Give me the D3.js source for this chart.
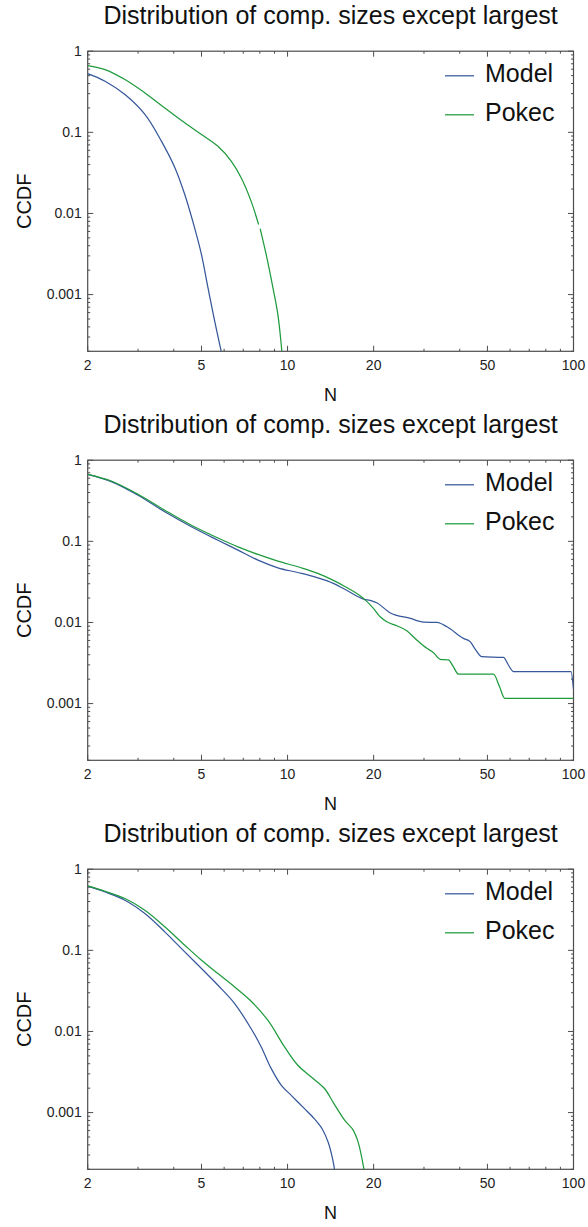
<!DOCTYPE html>
<html>
<head>
<meta charset="utf-8">
<script src="https://cdn.jsdelivr.net/npm/d3@7"></script>
<style>
  html, body { margin: 0; padding: 0; background: #fff; }
  svg { display: block; font-family: "Liberation Sans", Arial, sans-serif; }
</style>
</head>
<body>
<svg id="chart" width="588" height="1227"></svg>
<script>
// ---------------- data ----------------
const titleText = "Distribution of comp. sizes except largest";
const seriesNames = ["Model", "Pokec"];
const xTicks = [2, 5, 10, 20, 50, 100];
const xTickLabels = ["2", "5", "10", "20", "50", "100"];
const yTicks = [1, 0.1, 0.01, 0.001];
const yTickLabels = ["1", "0.1", "0.01", "0.001"];
const xDomain = [2, 100];
const yDomain = [0.0002, 1];

// Panel 1
const p1Model = [[2,0.53],[2.3,0.427],[2.7,0.292],[3.17,0.166],[3.62,0.078],[4.04,0.0364],
  [4.37,0.0171],[4.73,0.00664],[5.0,0.00311],[5.27,0.00121],[5.56,0.00047],[5.86,0.0002]];
const p1Pokec = [[2,0.666],[2.3,0.594],[2.7,0.447],[3.17,0.306],[3.72,0.20],[4.37,0.131],
  [5.0,0.094],[5.71,0.0674],[6.36,0.044],[6.89,0.0274],[7.46,0.0141],[7.92,0.0073],null,
  [8.02,0.0065],[8.42,0.0031],[8.89,0.00121],[9.25,0.000566],[9.55,0.0002]];

// Panel 2
const p2Model = [[2,0.67],[2.43,0.541],[3.0,0.37],[3.72,0.231],[4.61,0.151],[5.71,0.103],
  [6.71,0.0778],[7.88,0.0586],[9.25,0.0472],[10.86,0.0413],[12.76,0.0355],[14.46,0.0303],
  [15.8,0.0258],[18.43,0.0194],[19.7,0.0185],[20.5,0.0175],[22.8,0.0132],[26.9,0.0112],
  [29.9,0.0101],[33.3,0.0100],[36.1,0.00885],[41.2,0.00637],[43.5,0.0058],[45.3,0.0047],
  [47.8,0.00379],[56.9,0.0037],[59.2,0.00299],[61.7,0.00248],[98,0.00248],[100,0.0015]];
const p2Pokec = [[2,0.67],[2.43,0.55],[3.0,0.38],[3.72,0.242],[4.61,0.158],[5.71,0.110],
  [6.71,0.0855],[7.88,0.0689],[9.25,0.057],[11.07,0.0476],[12.76,0.0402],[14.46,0.0330],
  [15.8,0.028],[18.43,0.0198],[19.97,0.0149],[21.08,0.01175],[22.24,0.0102],[24.11,0.0091],
  [26.12,0.0079],[28.3,0.00608],[30.7,0.0048],[32.4,0.00424],[34.2,0.00351],[36.5,0.00345],
  [38.0,0.00285],[39.6,0.0023],[52.5,0.0023],[55.1,0.00162],[57.5,0.00116],[100,0.00116]];

// Panel 3
const p3Model = [[2,0.617],[2.3,0.525],[2.7,0.415],[3.17,0.284],[3.72,0.169],[4.37,0.0957],
  [5.0,0.0596],[5.71,0.0371],[6.53,0.0221],[7.46,0.0108],[8.09,0.00645],[8.77,0.00348],
  [9.51,0.00217],[10.3,0.00163],[11.46,0.00112],[12.4,0.000843],[12.86,0.00072],
  [13.25,0.00062],[13.87,0.00043],[14.3,0.00029],[14.6,0.0002]];
const p3Pokec = [[2,0.623],[2.3,0.535],[2.7,0.435],[3.17,0.312],[3.72,0.195],[4.37,0.1156],
  [5.0,0.0755],[5.71,0.0517],[6.53,0.0354],[7.46,0.0236],[8.53,0.01375],[9.76,0.00645],
  [10.86,0.00383],[12.1,0.00275],[13.46,0.00198],[14.45,0.00133],[15.9,0.00079],
  [16.9,0.00062],[17.66,0.00043],[18.5,0.0002]];

const panels = [
  { model: p1Model, pokec: p1Pokec, curve: d3.curveCatmullRom.alpha(0.5) },
  { model: p2Model, pokec: p2Pokec, curve: d3.curveMonotoneX },
  { model: p3Model, pokec: p3Pokec, curve: d3.curveCatmullRom.alpha(0.5) }
];

// ---------------- layout / style ----------------
const colors = { Model: "#36589b", Pokec: "#1f9b3e" };
const panelH = 409;
const L = 87.7, R = 573.5, T = 51.2, B = 351.3;
const frameColor = "#4d4d4d";

const svg = d3.select("#chart");
const x = d3.scaleLog().domain(xDomain).range([L, R]);

const xMinor = [];
[1, 10].forEach(d => [2,3,4,5,6,7,8,9].forEach(k => { const v = k*d; if (v > 2 && v < 100 && !xTicks.includes(v)) xMinor.push(v); }));
const yMinor = [];
[0.0001, 0.001, 0.01, 0.1].forEach(d => [2,3,4,5,6,7,8,9].forEach(k => { const v = k*d; if (v >= 0.0002 && v < 1) yMinor.push(v); }));

panels.forEach((p, i) => {
  const oy = i * panelH;
  const g = svg.append("g").attr("transform", `translate(0,${oy})`);
  const y = d3.scaleLog().domain(yDomain).range([B, T]);

  g.append("text").attr("x", (L + R) / 2).attr("y", 24)
    .attr("text-anchor", "middle").attr("font-size", 25).attr("fill", "#111")
    .text(titleText);

  const cid = "clip" + i;
  g.append("clipPath").attr("id", cid).append("rect")
    .attr("x", L).attr("y", T).attr("width", R - L).attr("height", B - T);

  const tk = g.append("g").attr("stroke", frameColor).attr("stroke-width", 1);
  xTicks.forEach(v => {
    tk.append("line").attr("x1", x(v)).attr("x2", x(v)).attr("y1", B).attr("y2", B - 5.5);
    tk.append("line").attr("x1", x(v)).attr("x2", x(v)).attr("y1", T).attr("y2", T + 5.5);
  });
  xMinor.forEach(v => {
    tk.append("line").attr("x1", x(v)).attr("x2", x(v)).attr("y1", B).attr("y2", B - 2.5);
    tk.append("line").attr("x1", x(v)).attr("x2", x(v)).attr("y1", T).attr("y2", T + 2.5);
  });
  yTicks.forEach(v => {
    tk.append("line").attr("x1", L).attr("x2", L + 5.5).attr("y1", y(v)).attr("y2", y(v));
    tk.append("line").attr("x1", R).attr("x2", R - 5.5).attr("y1", y(v)).attr("y2", y(v));
  });
  yMinor.forEach(v => {
    tk.append("line").attr("x1", L).attr("x2", L + 2.5).attr("y1", y(v)).attr("y2", y(v));
    tk.append("line").attr("x1", R).attr("x2", R - 2.5).attr("y1", y(v)).attr("y2", y(v));
  });

  g.append("rect").attr("x", L).attr("y", T).attr("width", R - L).attr("height", B - T)
    .attr("fill", "none").attr("stroke", frameColor).attr("stroke-width", 1.2);

  xTicks.forEach((v, j) => {
    g.append("text").attr("x", x(v)).attr("y", B + 19).attr("text-anchor", "middle")
      .attr("font-size", 14).attr("fill", "#222").text(xTickLabels[j]);
  });
  yTicks.forEach((v, j) => {
    g.append("text").attr("x", L - 6).attr("y", y(v) + 4.8).attr("text-anchor", "end")
      .attr("font-size", 14).attr("fill", "#222").text(yTickLabels[j]);
  });

  g.append("text").attr("x", (L + R) / 2).attr("y", B + 50).attr("text-anchor", "middle")
    .attr("font-size", 18).attr("fill", "#111").text("N");
  g.append("text").attr("transform", `translate(31,${(T + B) / 2}) rotate(-90)`)
    .attr("text-anchor", "middle").attr("font-size", 20).attr("fill", "#111").text("CCDF");

  const line = d3.line().defined(d => d !== null)
    .x(d => x(d[0])).y(d => y(d[1])).curve(p.curve);
  const lg = g.append("g").attr("clip-path", `url(#${cid})`);
  [["Model", p.model], ["Pokec", p.pokec]].forEach(([name, data]) => {
    lg.append("path").datum(data).attr("d", line).attr("fill", "none")
      .attr("stroke", colors[name]).attr("stroke-width", 1.25);
  });

  seriesNames.forEach((name, j) => {
    const by = 82.3 + j * 39;
    g.append("line").attr("x1", 445).attr("x2", 474).attr("y1", by - 6.5).attr("y2", by - 6.5)
      .attr("stroke", colors[name]).attr("stroke-width", 1.25);
    g.append("text").attr("x", 485).attr("y", by).attr("font-size", 25).attr("fill", "#111").text(name);
  });
});
</script>
</body>
</html>
